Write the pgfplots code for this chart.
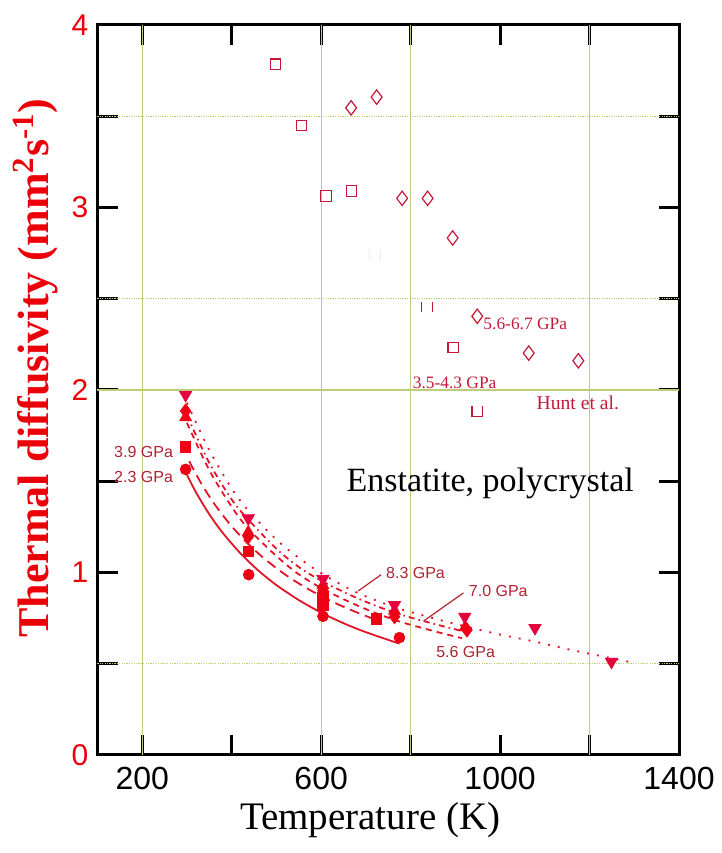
\documentclass[border=0pt]{standalone}
\usepackage{pgfplots}
\pgfplotsset{compat=1.18}
\usepackage{fontspec}
\setmainfont{Liberation Serif}
\setsansfont{Liberation Sans}
\definecolor{datared}{RGB}{240,0,20}
\definecolor{trired}{RGB}{230,0,60}
\definecolor{curvered}{RGB}{225,20,40}
\definecolor{gpacol}{RGB}{175,35,50}
\definecolor{huntcol}{RGB}{195,25,55}
\definecolor{gridc}{RGB}{190,205,120}
\definecolor{ylabred}{RGB}{235,0,10}
\pgfdeclareplotmark{twobars}{%
 \pgfpathmoveto{\pgfqpoint{-1.1\pgfplotmarksize}{-\pgfplotmarksize}}%
 \pgfpathlineto{\pgfqpoint{-1.1\pgfplotmarksize}{\pgfplotmarksize}}%
 \pgfpathmoveto{\pgfqpoint{1.1\pgfplotmarksize}{-\pgfplotmarksize}}%
 \pgfpathlineto{\pgfqpoint{1.1\pgfplotmarksize}{\pgfplotmarksize}}%
 \pgfusepathqstroke}
\pgfdeclareplotmark{cup}{%
 \pgfpathmoveto{\pgfqpoint{-\pgfplotmarksize}{\pgfplotmarksize}}%
 \pgfpathlineto{\pgfqpoint{-\pgfplotmarksize}{-\pgfplotmarksize}}%
 \pgfpathlineto{\pgfqpoint{\pgfplotmarksize}{-\pgfplotmarksize}}%
 \pgfpathlineto{\pgfqpoint{\pgfplotmarksize}{\pgfplotmarksize}}%
 \pgfusepathqstroke}
\begin{document}
\begin{tikzpicture}
\begin{axis}[
 name=ax, at={(0,0)}, anchor=south west,
 scale only axis, width=290.75pt, height=365pt,
 xmin=100, xmax=1400, ymin=0, ymax=4,
 xtick={200,400,...,1400}, xticklabels={200,,600,,1000,,1400},
 ytick={0,0.5,...,4}, yticklabels={0,,1,,2,,3,,4},
 tick align=inside, major tick length=10pt,
 tick style={line width=1.5pt, black},
 axis line style={line width=1.5pt},
 xticklabel style={font=\fontsize{16}{16}\sffamily, text=black, yshift=-2.5pt},
 yticklabel style={font=\fontsize{15}{15}\sffamily, text=ylabred, xshift=-1pt},
 /pgf/number format/assume math mode=true,
 xlabel={Temperature (K)},
 xlabel style={font=\fontsize{19.5}{20}\selectfont, at={(axis description cs:0.469,0)}, anchor=center, yshift=-32.5pt},
 ylabel={\textbf{Thermal diffusivity (mm\textsuperscript{2}s\textsuperscript{-1})}},
 ylabel style={font=\fontsize{22}{22}\selectfont, text=ylabred, at={(axis description cs:-0.107,0.53)}, anchor=center, rotate=0},
 clip=false,
]
% grid
\draw[gridc, line width=0.6pt] (axis cs:200,0) -- (axis cs:200,4);
\draw[gridc, line width=0.6pt] (axis cs:600,0) -- (axis cs:600,4);
\draw[gridc, line width=0.6pt] (axis cs:800,0) -- (axis cs:800,4);
\draw[gridc, line width=0.6pt] (axis cs:1200,0) -- (axis cs:1200,4);
\draw[gridc, line width=0.6pt] (axis cs:100,2) -- (axis cs:1400,2);
\draw[gridc, line width=0.6pt, dash pattern=on 0.6pt off 0.6pt] (axis cs:100,0.5) -- (axis cs:1400,0.5);
\draw[gridc, line width=0.6pt, dash pattern=on 0.6pt off 0.6pt] (axis cs:100,2.5) -- (axis cs:1400,2.5);
\draw[gridc, line width=0.6pt, dash pattern=on 0.6pt off 0.6pt] (axis cs:100,3.5) -- (axis cs:1400,3.5);

% Hunt et al. open markers
\addplot[only marks, mark=square, mark size=2.6pt, huntcol, mark options={line width=0.6pt}] coordinates {
 (498,3.785) (556,3.45) (611,3.063) (668,3.09) (895,2.233)};
\addplot[only marks, mark=cup, mark size=2.6pt, huntcol, mark options={line width=0.6pt}] coordinates {(949,1.884)};
\addplot[only marks, mark=twobars, mark size=2.5pt, huntcol, mark options={line width=0.6pt}] coordinates {(836,2.456)};
\addplot[only marks, mark=twobars, mark size=2.5pt, red!10, mark options={line width=0.6pt}] coordinates {(720,2.74)};
\addplot[only marks, mark=diamond, mark size=3.6pt, huntcol, mark options={line width=0.6pt}] coordinates {
 (667,3.546) (724,3.605) (781,3.05) (838,3.05) (894,2.833) (949,2.404) (1064,2.202) (1175,2.16)};

% fitted curves
\addplot[curvered, line width=0.9pt, smooth] coordinates {
 (297,1.550) (320,1.440) (350,1.319) (380,1.217) (420,1.104) (460,1.010) (500,0.931)
 (550,0.849) (600,0.780) (650,0.722) (700,0.673) (775,0.610)};
\addplot[curvered, line width=0.9pt, smooth, dash pattern=on 5pt off 3pt] coordinates {
 (305,1.610) (330,1.496) (360,1.380) (400,1.253) (440,1.149) (480,1.062) (530,0.971)
 (580,0.897) (630,0.834) (680,0.781) (723,0.740)};
\addplot[curvered, line width=0.9pt, smooth, dash pattern=on 3pt off 2.5pt] coordinates {
 (300,1.82) (350,1.56) (400,1.36) (437,1.24) (500,1.09) (550,0.99) (604,0.91)
 (680,0.82) (764,0.74) (850,0.68) (915,0.64)};
\addplot[curvered, line width=0.9pt, smooth, dash pattern=on 3pt off 2pt on 0.8pt off 2pt] coordinates {
 (300,1.86) (350,1.60) (400,1.40) (437,1.29) (500,1.13) (550,1.03) (604,0.95)
 (680,0.86) (764,0.78) (850,0.72) (930,0.67)};
\addplot[curvered, line width=0.9pt, smooth, dash pattern=on 1pt off 4pt] coordinates {
 (300,1.93) (350,1.67) (400,1.46) (437,1.34) (500,1.18) (550,1.08) (604,0.99)
 (680,0.89) (764,0.81) (850,0.75) (930,0.70) (1000,0.66) (1080,0.62) (1160,0.575)
 (1250,0.53) (1290,0.51)};

% measured data
\addplot[only marks, mark=*, mark size=2.7pt, datared] coordinates {
 (297,1.565) (438,0.988) (604,0.760) (775,0.643)};
\addplot[only marks, mark=square*, mark size=2.6pt, datared] coordinates {
 (297,1.689) (437,1.114) (604,0.86) (604,0.82) (723,0.745)};
\addplot[only marks, mark=triangle*, mark size=3.4pt, datared] coordinates {
 (297,1.85) (437,1.22) (604,0.93) (764,0.79) (922,0.70)};
\addplot[only marks, mark=diamond*, mark size=3.5pt, datared] coordinates {
 (297,1.885) (437,1.196) (604,0.90) (764,0.758) (926,0.685)};
\addplot[only marks, mark=triangle*, mark size=3.5pt, trired, mark options={rotate=180}] coordinates {
 (297,1.973) (437,1.297) (604,0.965) (764,0.822) (921,0.758) (1078,0.696) (1249,0.511)};

% annotations
\node[anchor=east, font=\fontsize{8}{8}\sffamily, text=gpacol, inner sep=1pt] at (axis cs:274,1.66) {3.9 GPa};
\node[anchor=east, font=\fontsize{8}{8}\sffamily, text=gpacol, inner sep=1pt] at (axis cs:274,1.524) {2.3 GPa};
\node[anchor=west, font=\fontsize{8}{8}\sffamily, text=gpacol, inner sep=1pt] at (axis cs:740,0.998) {8.3 GPa};
\node[anchor=west, font=\fontsize{8}{8}\sffamily, text=gpacol, inner sep=1pt] at (axis cs:925,0.899) {7.0 GPa};
\node[anchor=west, font=\fontsize{8}{8}\sffamily, text=gpacol, inner sep=1pt] at (axis cs:852,0.564) {5.6 GPa};
\draw[gpacol, line width=0.6pt] (axis cs:734,0.988) -- (axis cs:683,0.899);
\draw[gpacol, line width=0.6pt] (axis cs:918,0.888) -- (axis cs:829,0.734);
\node[anchor=west, font=\fontsize{8.7}{9}\selectfont, text=huntcol, inner sep=0pt] at (axis cs:962,2.365) {5.6-6.7 GPa};
\node[anchor=west, font=\fontsize{8.7}{9}\selectfont, text=huntcol, inner sep=0pt] at (axis cs:804,2.037) {3.5-4.3 GPa};
\node[anchor=west, font=\fontsize{9.8}{10}\selectfont, text=huntcol, inner sep=0pt] at (axis cs:1081,1.93) {Hunt et al.};
\node[anchor=center, font=\fontsize{17}{17}\selectfont, text=black, inner sep=0pt] at (axis cs:978,1.488) {Enstatite, polycrystal};
\end{axis}
\pgfresetboundingbox
\path[use as bounding box] ([xshift=-48.75pt,yshift=-49pt]ax.south west) rectangle ([xshift=21pt,yshift=12.5pt]ax.north east);
\end{tikzpicture}
\end{document}
